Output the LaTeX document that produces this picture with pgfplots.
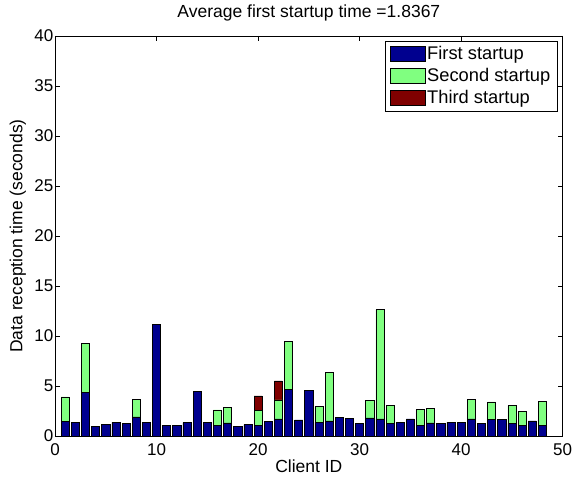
\documentclass[border=0pt]{standalone}
\usepackage{pgfplots}
\pgfplotsset{compat=1.18}
\usepackage{pgfplotstable}
\usepackage{fontspec}
\setmainfont{Liberation Sans}
\definecolor{mblue}{RGB}{0,0,143}
\definecolor{mgreen}{RGB}{128,255,128}
\definecolor{mred}{RGB}{128,0,0}
\pgfplotstableread{
id first second third
1 1.47 2.43 0
2 1.33 0 0
3 4.33 4.90 0
4 1.00 0 0
5 1.17 0 0
6 1.37 0 0
7 1.27 0 0
8 1.90 1.73 0
9 1.33 0 0
10 11.13 0 0
11 1.10 0 0
12 1.10 0 0
13 1.33 0 0
14 4.43 0 0
15 1.33 0 0
16 1.07 1.53 0
17 1.32 1.51 0
18 1.00 0 0
19 1.13 0 0
20 1.07 1.50 1.43
21 1.43 0 0
22 1.70 1.90 1.90
23 4.67 4.80 0
24 1.60 0 0
25 4.53 0 0
26 1.37 1.56 0
27 1.50 4.83 0
28 1.83 0 0
29 1.73 0 0
30 1.23 0 0
31 1.80 1.77 0
32 1.70 10.93 0
33 1.27 1.76 0
34 1.33 0 0
35 1.70 0 0
36 1.07 1.56 0
37 1.30 1.47 0
38 1.27 0 0
39 1.37 0 0
40 1.37 0 0
41 1.70 1.93 0
42 1.23 0 0
43 1.67 1.73 0
44 1.67 0 0
45 1.27 1.76 0
46 1.07 1.40 0
47 1.50 0 0
48 1.07 2.36 0
}\datatable
\begin{document}
\fontsize{17.5bp}{21bp}\selectfont
\begin{tikzpicture}
\useasboundingbox (-55bp,-45bp) rectangle (518bp,436bp);
\begin{axis}[
  at={(0,0)}, anchor=south west,
  scale only axis,
  width=507.7bp, height=400bp,
  xmin=0, xmax=50, ymin=0, ymax=40,
  xtick={0,10,20,30,40,50},
  ytick={0,5,10,15,20,25,30,35,40},
  tick align=inside,
  major tick length=5bp,
  tick style={black, line width=0.6bp},
  axis line style={black, line width=0.6bp},
  /pgf/number format/assume math mode=true,
  ticklabel style={font=\fontsize{17bp}{20bp}\selectfont},
  xticklabel style={inner sep=1.5bp, yshift=-6bp},
  yticklabel style={inner sep=1.5bp},
  ybar stacked,
  bar width=0.8,
  title={Average first startup time =1.8367},
  title style={at={(axis description cs:0.5,1.06)}, anchor=center, yshift=-7bp, font=\fontsize{17.5bp}{21bp}\selectfont},
  xlabel={Client ID},
  xlabel style={at={(axis description cs:0.5,-0.075)}, anchor=center, font=\fontsize{17.5bp}{21bp}\selectfont},
  ylabel={Data reception time (seconds)},
  ylabel style={at={(axis description cs:-0.073,0.5)}, anchor=center, rotate=0, font=\fontsize{17.5bp}{21bp}\selectfont},
  legend style={at={(axis description cs:0.989,0.9875)}, anchor=north east, draw=black, line width=0.6bp,
    font=\fontsize{18.3bp}{21bp}\selectfont, row sep=3bp, inner xsep=5bp, inner ysep=3.5bp,
    nodes={inner sep=1.5bp},
    /tikz/every even column/.append style={column sep=0bp}},
  legend cell align=left,
  legend image code/.code={\draw[#1, line width=0.6bp] (0bp,-7.5bp) rectangle (35bp,8bp);},
]
\addplot[fill=mblue, draw=black, line width=0.6bp] table[x=id, y=first] {\datatable};
\addplot[fill=mgreen, draw=black, line width=0.6bp] table[x=id, y=second] {\datatable};
\addplot[fill=mred, draw=black, line width=0.6bp] table[x=id, y=third] {\datatable};
\legend{First startup, Second startup, Third startup}
\end{axis}
\end{tikzpicture}
\end{document}
